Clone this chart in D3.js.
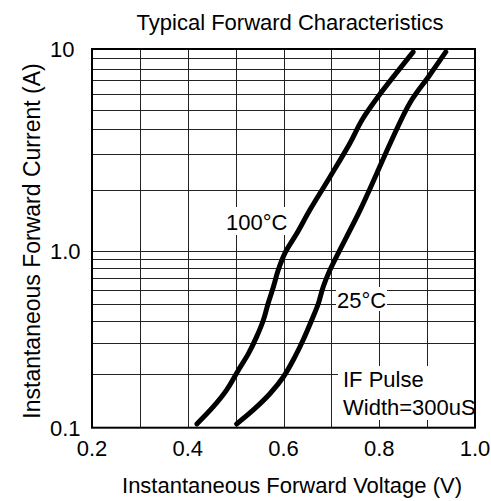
<!DOCTYPE html>
<html lang="en">
<head>
    <meta charset="UTF-8">
    <title>Typical Forward Characteristics</title>
    <style>
        body { margin: 0; background: #fff; }
        svg text { font-family: "Liberation Sans", Arial, sans-serif; fill: #000; }
        .grid line { stroke: #222; stroke-width: 1; }
        .curve { fill: none; stroke: #000; stroke-width: 5; stroke-linecap: round; stroke-linejoin: round; }
    </style>
</head>
<body>
    <svg width="491" height="501"></svg>
    <script src="https://d3js.org/d3.v7.min.js"></script>
    <script>
        // forward voltage (V) vs current (A)
        const hot100V = [0.419, 0.453, 0.481, 0.506, 0.527, 0.544, 0.558, 0.568, 0.579, 0.589, 0.603, 0.628, 0.655, 0.697, 0.739, 0.764, 0.797, 0.871];
        const hot100I = [0.105, 0.131, 0.163, 0.212, 0.263, 0.327, 0.406, 0.505, 0.626, 0.778, 0.970, 1.22, 1.59, 2.32, 3.42, 4.45, 5.78, 9.67];
        const room25V = [0.502, 0.537, 0.572, 0.600, 0.624, 0.641, 0.659, 0.673, 0.683, 0.697, 0.760, 0.795, 0.823, 0.864, 0.904, 0.939];
        const room25I = [0.105, 0.126, 0.156, 0.194, 0.252, 0.313, 0.406, 0.505, 0.626, 0.778, 1.59, 2.42, 3.41, 5.40, 7.35, 9.67];

        const xTickLabels = ["0.2", "0.4", "0.6", "0.8", "1.0"];
        const yTickLabels = ["0.1", "1.0", "10"];

        const plotL = 92, plotR = 475, plotT = 49, plotB = 427.7;

        const svg = d3.select("svg");

        const x = d3.scaleLinear().domain([0.2, 1.0]).range([plotL, plotR]);
        // the printed decades are not quite even, so split the log scale at 1 A
        const y = d3.scaleLog().domain([0.1, 1, 10]).range([plotB, 250.7, plotT]);

        // grid
        const grid = svg.append("g").attr("class", "grid");
        grid.selectAll(".vx")
            .data(d3.range(3, 10).map(d => d / 10))
            .join("line")
            .attr("x1", d => Math.round(x(d)) + 0.5).attr("x2", d => Math.round(x(d)) + 0.5)
            .attr("y1", plotT).attr("y2", plotB);
        grid.selectAll(".hy")
            .data(y.ticks().filter(d => d > 0.1 && d < 10))
            .join("line")
            .attr("x1", plotL).attr("x2", plotR)
            .attr("y1", d => Math.round(y(d)) + 0.5).attr("y2", d => Math.round(y(d)) + 0.5);

        // white patches behind the annotations
        svg.append("rect").attr("x", 225).attr("y", 207).attr("width", 64).attr("height", 28).attr("fill", "#fff");
        svg.append("rect").attr("x", 336).attr("y", 287).attr("width", 51).attr("height", 24).attr("fill", "#fff");
        svg.append("rect").attr("x", 338).attr("y", 366).attr("width", plotR - 338).attr("height", 54).attr("fill", "#fff");

        // curves
        const line = d3.line()
            .x(d => x(d[0]))
            .y(d => y(d[1]))
            .curve(d3.curveCatmullRom.alpha(0.5));

        svg.append("path").attr("class", "curve").attr("d", line(d3.zip(hot100V, hot100I)));
        svg.append("path").attr("class", "curve").attr("d", line(d3.zip(room25V, room25I)));

        // frame
        svg.append("rect")
            .attr("x", plotL).attr("y", plotT)
            .attr("width", plotR - plotL).attr("height", plotB - plotT)
            .attr("fill", "none").attr("stroke", "#000").attr("stroke-width", 2);

        // tick labels
        svg.selectAll(".xt")
            .data(xTickLabels)
            .join("text")
            .attr("x", d => x(+d))
            .attr("y", 456)
            .attr("text-anchor", "middle")
            .attr("font-size", 22)
            .text(d => d);

        svg.selectAll(".yt")
            .data(yTickLabels)
            .join("text")
            .attr("x", 50)
            .attr("y", d => y(+d) + 8)
            .attr("font-size", 22)
            .text(d => d);

        // annotations
        svg.append("text").attr("x", 226).attr("y", 230).attr("font-size", 22).text("100°C");
        svg.append("text").attr("x", 337).attr("y", 308).attr("font-size", 22).text("25°C");
        svg.append("text").attr("x", 343).attr("y", 387).attr("font-size", 22).text("IF Pulse");
        svg.append("text").attr("x", 343).attr("y", 415).attr("font-size", 22).text("Width=300uS");

        // titles
        svg.append("text")
            .attr("x", 290).attr("y", 30)
            .attr("text-anchor", "middle")
            .attr("font-size", 22)
            .text("Typical Forward Characteristics");

        svg.append("text")
            .attr("x", 292).attr("y", 493)
            .attr("text-anchor", "middle")
            .attr("font-size", 22)
            .text("Instantaneous Forward Voltage (V)");

        svg.append("text")
            .attr("transform", "translate(39.5,241) rotate(-90)")
            .attr("text-anchor", "middle")
            .attr("font-size", 23)
            .text("Instantaneous Forward Current (A)");
    </script>
</body>
</html>
